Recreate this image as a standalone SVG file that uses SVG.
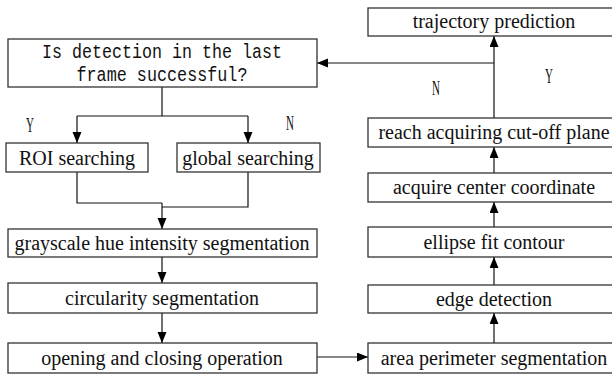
<svg xmlns="http://www.w3.org/2000/svg" width="612" height="374" viewBox="0 0 612 374">
  <style>
    .box { fill: #ffffff; stroke: #333333; stroke-width: 1.3; }
    .lbl { font-family: "Liberation Serif", "Times New Roman", serif; font-size: 20px; fill: #111111; text-anchor: middle; }
    .mono { font-family: "Liberation Mono", "Courier New", monospace; font-size: 20px; fill: #111111; text-anchor: middle; }
    .yn { font-family: "Liberation Serif", "Times New Roman", serif; font-size: 20px; fill: #111111; text-anchor: middle; }
    .wire { fill: none; stroke: #111111; stroke-width: 1.2; }
  </style>
  <defs>
    <marker id="arrow" markerUnits="userSpaceOnUse" markerWidth="12" markerHeight="10" refX="11" refY="4.5" orient="auto">
      <path d="M0,0 L11,4.5 L0,9 z" fill="#000000"/>
    </marker>
  </defs>
  <rect width="612" height="374" fill="#ffffff"/>

  <!-- connectors -->
  <g id="connectors">
    <path class="wire" d="M162,87 V116 M77,116 H248"/>
    <path class="wire" d="M77,116 V143" marker-end="url(#arrow)"/>
    <path class="wire" d="M248,116 V143" marker-end="url(#arrow)"/>
    <path class="wire" d="M77,172 V203 H162"/>
    <path class="wire" d="M248,172 V207 H162"/>
    <path class="wire" d="M162,203 V229" marker-end="url(#arrow)"/>
    <path class="wire" d="M162,257 V283" marker-end="url(#arrow)"/>
    <path class="wire" d="M162,313 V343" marker-end="url(#arrow)"/>
    <path class="wire" d="M317,357 H368" marker-end="url(#arrow)"/>
    <path class="wire" d="M494,343 V313" marker-end="url(#arrow)"/>
    <path class="wire" d="M494,285 V257" marker-end="url(#arrow)"/>
    <path class="wire" d="M494,227 V202" marker-end="url(#arrow)"/>
    <path class="wire" d="M494,173 V147" marker-end="url(#arrow)"/>
    <path class="wire" d="M494,118 V36" marker-end="url(#arrow)"/>
    <path class="wire" d="M494,63 H317" marker-end="url(#arrow)"/>
    <!-- branch labels -->
    <text class="yn" transform="translate(30,132) scale(0.55,1)">Y</text>
    <text class="yn" transform="translate(290,130) scale(0.55,1)">N</text>
    <text class="yn" transform="translate(436,95) scale(0.55,1)">N</text>
    <text class="yn" transform="translate(549,83) scale(0.55,1)">Y</text>
  </g>

  <!-- left column -->
  <g id="decision">
    <rect class="box" x="8" y="39" width="309" height="48"/>
    <text class="mono" x="162" y="58" textLength="240" lengthAdjust="spacingAndGlyphs">Is detection in the last</text>
    <text class="mono" x="162" y="81" textLength="171" lengthAdjust="spacingAndGlyphs">frame successful?</text>
  </g>
  <g id="roi">
    <rect class="box" x="6" y="143" width="142" height="29"/>
    <text class="lbl" x="77" y="165">ROI searching</text>
  </g>
  <g id="global">
    <rect class="box" x="177" y="143" width="143" height="29"/>
    <text class="lbl" x="248" y="165">global searching</text>
  </g>
  <g id="grayscale">
    <rect class="box" x="8" y="229" width="309" height="28"/>
    <text class="lbl" x="162" y="250">grayscale hue intensity segmentation</text>
  </g>
  <g id="circularity">
    <rect class="box" x="8" y="283" width="309" height="30"/>
    <text class="lbl" x="162" y="305">circularity segmentation</text>
  </g>
  <g id="opening">
    <rect class="box" x="8" y="343" width="309" height="30"/>
    <text class="lbl" x="162" y="365">opening and closing operation</text>
  </g>

  <!-- right column -->
  <g id="trajectory">
    <rect class="box" x="368" y="8" width="252" height="28"/>
    <text class="lbl" x="494" y="28">trajectory prediction</text>
  </g>
  <g id="cutoff">
    <rect class="box" x="368" y="118" width="252" height="29"/>
    <text class="lbl" x="494" y="139">reach acquiring cut-off plane</text>
  </g>
  <g id="center">
    <rect class="box" x="368" y="173" width="252" height="29"/>
    <text class="lbl" x="494" y="194">acquire center coordinate</text>
  </g>
  <g id="ellipse">
    <rect class="box" x="368" y="227" width="252" height="30"/>
    <text class="lbl" x="494" y="249">ellipse fit contour</text>
  </g>
  <g id="edge">
    <rect class="box" x="368" y="285" width="252" height="28"/>
    <text class="lbl" x="494" y="306">edge detection</text>
  </g>
  <g id="area">
    <rect class="box" x="368" y="343" width="252" height="30"/>
    <text class="lbl" x="494" y="365">area perimeter segmentation</text>
  </g>
</svg>
